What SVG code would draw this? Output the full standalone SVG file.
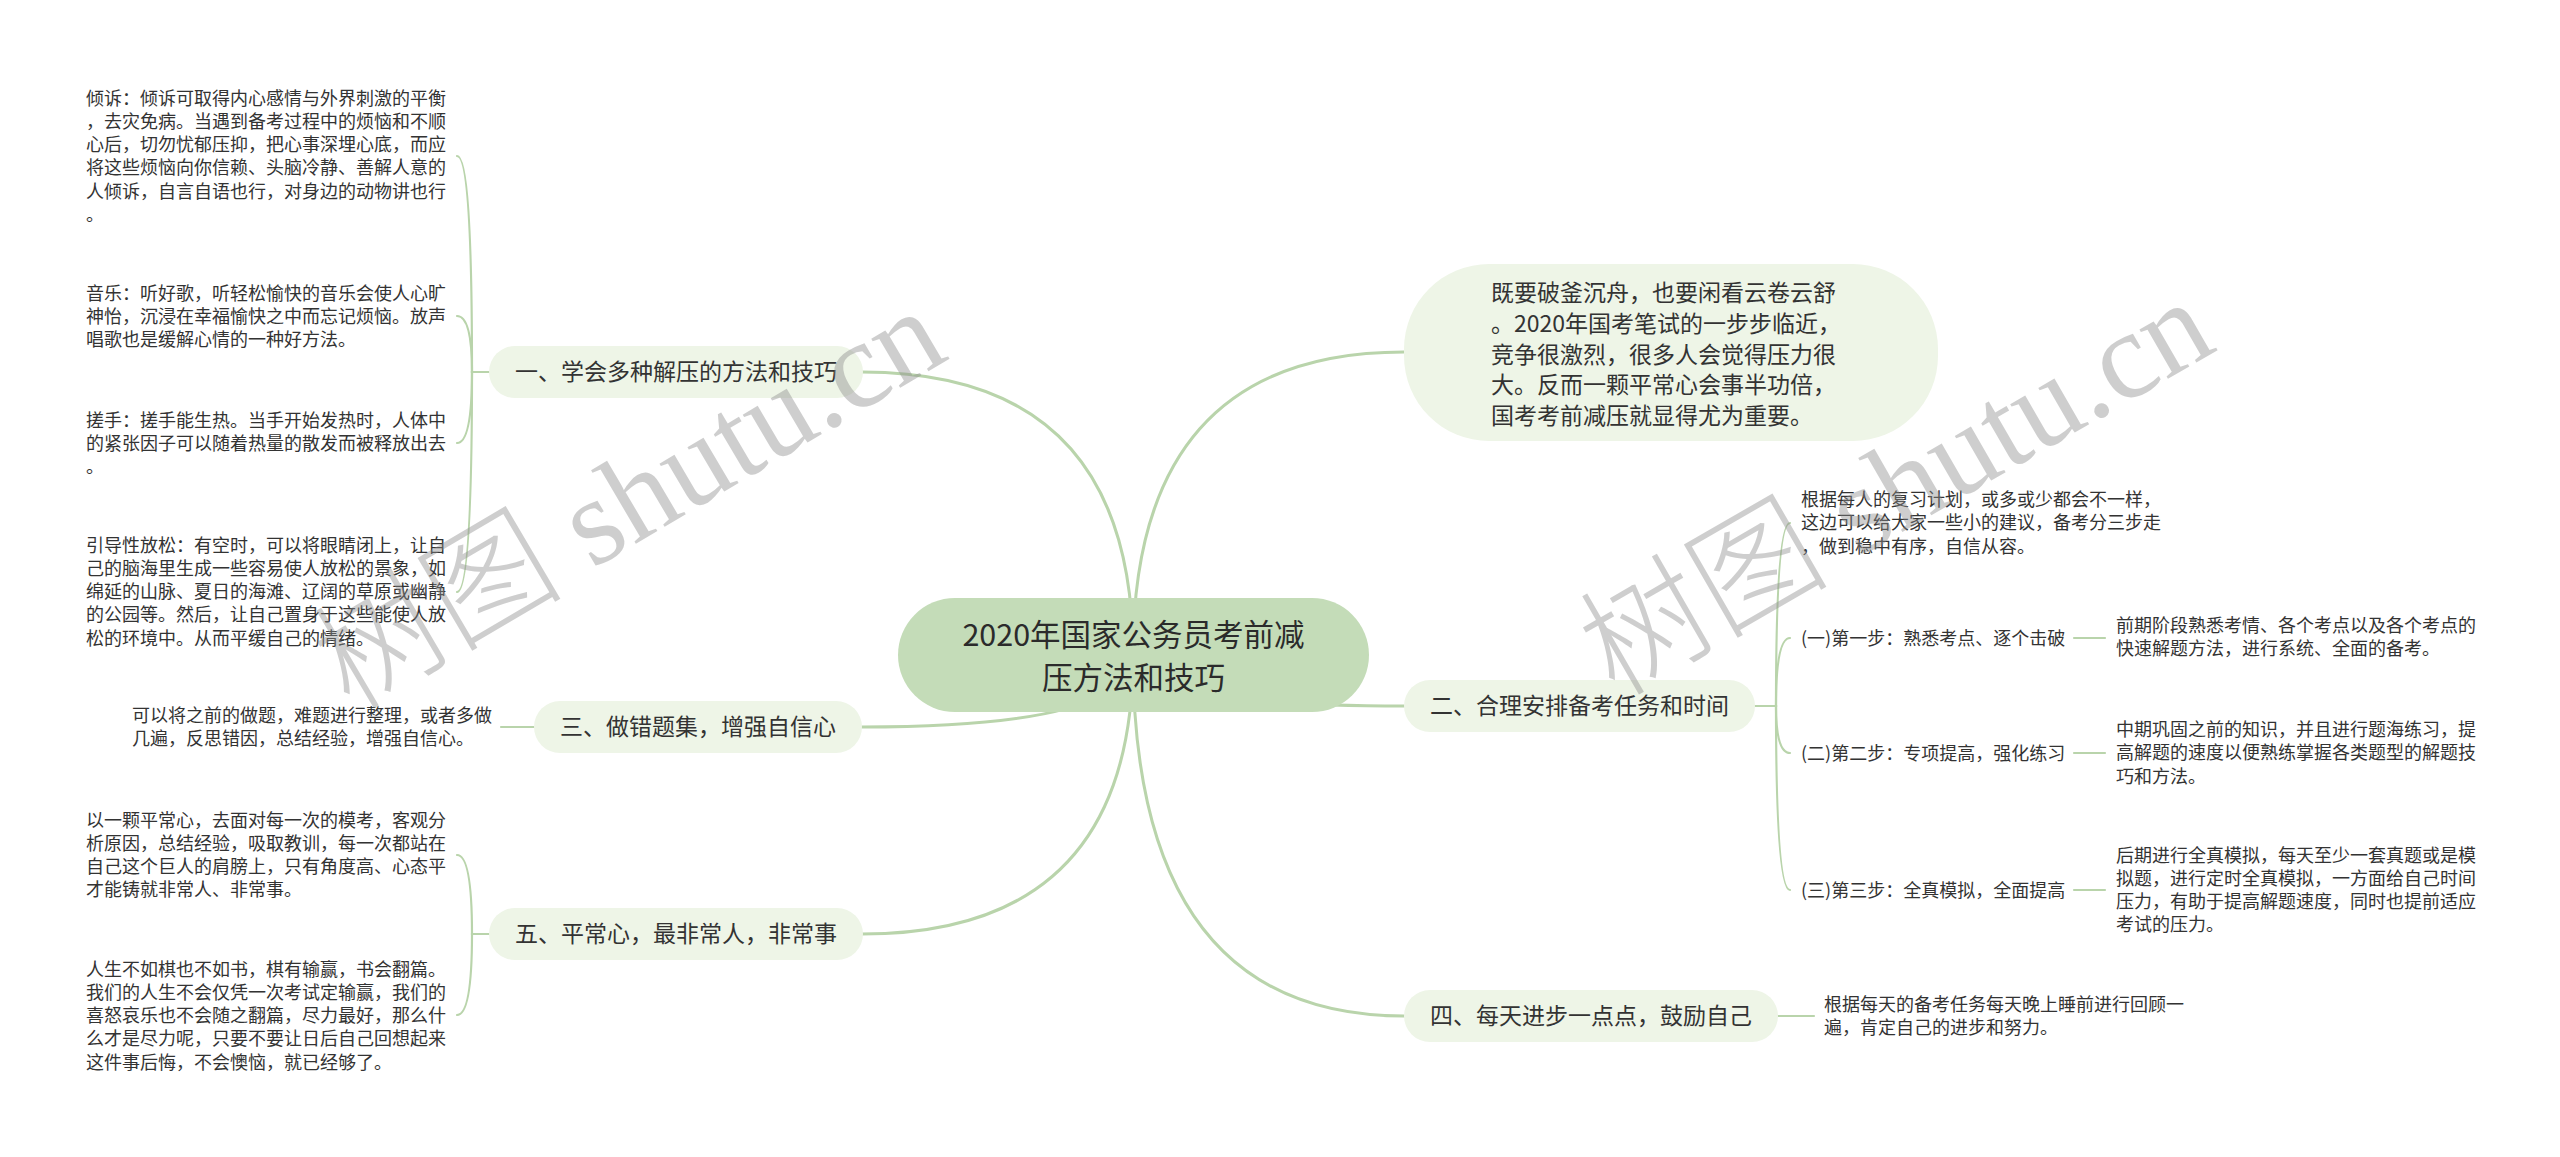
<svg xmlns="http://www.w3.org/2000/svg" width="2560" height="1157" viewBox="0 0 2560 1157">
<style>
.t{font-family:"Noto Sans CJK SC","Noto Sans",sans-serif;fill:#333333}
.leaf{font-size:18px}
.br{font-size:23px}
.root{font-size:30.5px;fill:#2b2b2b}
.ln{fill:none;stroke:#b9d4ab;stroke-width:3;stroke-linecap:round}
.ln2{fill:none;stroke:#b9d4ab;stroke-width:2.2;stroke-linecap:round}
.nb{fill:#eef5e7}
.nr{fill:#c4dcb8}
.wm{font-family:"Liberation Serif","Noto Sans CJK SC",serif;font-size:124px;fill:#8c8c8c;opacity:0.42}
.wmc{font-family:"Noto Sans CJK SC",serif;font-size:125px;font-weight:300}
</style>
<rect width="2560" height="1157" fill="#ffffff"/>
<g id="connectors">
<path class="ln" d="M1133 655 Q1133 372 862 372"/>
<path class="ln" d="M1133 655 Q1133 352 1404 352"/>
<path class="ln" d="M1133 655 Q1133 727 862 727"/>
<path class="ln" d="M1133 655 Q1133 934 862 934"/>
<path class="ln" d="M1133 655 Q1133 706 1404 706"/>
<path class="ln" d="M1133 655 Q1133 1016 1404 1016"/>
<path class="ln2" d="M489 372 H472 Q472 156 457 156"/>
<path class="ln2" d="M489 372 H472 Q472 316 457 316"/>
<path class="ln2" d="M489 372 H472 Q472 443 457 443"/>
<path class="ln2" d="M489 372 H472 Q472 592 457 592"/>
<path class="ln2" d="M534 727 H501"/>
<path class="ln2" d="M489 934 H472 Q472 855 457 855"/>
<path class="ln2" d="M489 934 H472 Q472 1015 457 1015"/>
<path class="ln2" d="M1755 706 H1776 Q1776 523 1790 523"/>
<path class="ln2" d="M1755 706 H1776 Q1776 638 1790 638"/>
<path class="ln2" d="M1755 706 H1776 Q1776 753 1790 753"/>
<path class="ln2" d="M1755 706 H1776 Q1776 890 1790 890"/>
<path class="ln2" d="M2074 638 H2105"/>
<path class="ln2" d="M2074 753 H2105"/>
<path class="ln2" d="M2074 890 H2105"/>
<path class="ln2" d="M1778 1016 H1814"/>
</g>
<g id="root">
<rect class="nr" x="898" y="598" width="471" height="114" rx="57"/>
<text class="t root" x="1133.5" y="646" text-anchor="middle">2020年国家公务员考前减</text>
<text class="t root" x="1133.5" y="689" text-anchor="middle">压方法和技巧</text>
</g>
<g id="intro">
<rect class="nb" x="1404" y="264" width="534" height="177" rx="85"/>
<text class="t br" x="1491" y="301"><tspan x="1491">既要破釜沉舟，也要闲看云卷云舒</tspan><tspan x="1491" dy="30.8">。2020年国考笔试的一步步临近，</tspan><tspan x="1491" dy="30.8">竞争很激烈，很多人会觉得压力很</tspan><tspan x="1491" dy="30.8">大。反而一颗平常心会事半功倍，</tspan><tspan x="1491" dy="30.8">国考考前减压就显得尤为重要。</tspan></text>
</g>
<g id="b1">
<rect class="nb" x="489" y="346" width="374" height="52" rx="26"/>
<text class="t br" x="515" y="380">一、学会多种解压的方法和技巧</text>
</g>
<g id="b1-leaf1">
<text class="t leaf" x="86" y="104.5"><tspan x="86">倾诉：倾诉可取得内心感情与外界刺激的平衡</tspan><tspan x="86" dy="23.3">，去灾免病。当遇到备考过程中的烦恼和不顺</tspan><tspan x="86" dy="23.3">心后，切勿忧郁压抑，把心事深埋心底，而应</tspan><tspan x="86" dy="23.3">将这些烦恼向你信赖、头脑冷静、善解人意的</tspan><tspan x="86" dy="23.3">人倾诉，自言自语也行，对身边的动物讲也行</tspan><tspan x="86" dy="23.3">。</tspan></text>
</g>
<g id="b1-leaf2">
<text class="t leaf" x="86" y="299.5"><tspan x="86">音乐：听好歌，听轻松愉快的音乐会使人心旷</tspan><tspan x="86" dy="23.3">神怡，沉浸在幸福愉快之中而忘记烦恼。放声</tspan><tspan x="86" dy="23.3">唱歌也是缓解心情的一种好方法。</tspan></text>
</g>
<g id="b1-leaf3">
<text class="t leaf" x="86" y="426.5"><tspan x="86">搓手：搓手能生热。当手开始发热时，人体中</tspan><tspan x="86" dy="23.3">的紧张因子可以随着热量的散发而被释放出去</tspan><tspan x="86" dy="23.3">。</tspan></text>
</g>
<g id="b1-leaf4">
<text class="t leaf" x="86" y="551.5"><tspan x="86">引导性放松：有空时，可以将眼睛闭上，让自</tspan><tspan x="86" dy="23.3">己的脑海里生成一些容易使人放松的景象，如</tspan><tspan x="86" dy="23.3">绵延的山脉、夏日的海滩、辽阔的草原或幽静</tspan><tspan x="86" dy="23.3">的公园等。然后，让自己置身于这些能使人放</tspan><tspan x="86" dy="23.3">松的环境中。从而平缓自己的情绪。</tspan></text>
</g>
<g id="b3">
<rect class="nb" x="534" y="701" width="328" height="52" rx="26"/>
<text class="t br" x="560" y="735">三、做错题集，增强自信心</text>
</g>
<g id="b3-leaf">
<text class="t leaf" x="132" y="721.5"><tspan x="132">可以将之前的做题，难题进行整理，或者多做</tspan><tspan x="132" dy="23.3">几遍，反思错因，总结经验，增强自信心。</tspan></text>
</g>
<g id="b5">
<rect class="nb" x="489" y="908" width="374" height="52" rx="26"/>
<text class="t br" x="515" y="942">五、平常心，最非常人，非常事</text>
</g>
<g id="b5-leaf1">
<text class="t leaf" x="86" y="826.5"><tspan x="86">以一颗平常心，去面对每一次的模考，客观分</tspan><tspan x="86" dy="23.3">析原因，总结经验，吸取教训，每一次都站在</tspan><tspan x="86" dy="23.3">自己这个巨人的肩膀上，只有角度高、心态平</tspan><tspan x="86" dy="23.3">才能铸就非常人、非常事。</tspan></text>
</g>
<g id="b5-leaf2">
<text class="t leaf" x="86" y="975.5"><tspan x="86">人生不如棋也不如书，棋有输赢，书会翻篇。</tspan><tspan x="86" dy="23.3">我们的人生不会仅凭一次考试定输赢，我们的</tspan><tspan x="86" dy="23.3">喜怒哀乐也不会随之翻篇，尽力最好，那么什</tspan><tspan x="86" dy="23.3">么才是尽力呢，只要不要让日后自己回想起来</tspan><tspan x="86" dy="23.3">这件事后悔，不会懊恼，就已经够了。</tspan></text>
</g>
<g id="b2">
<rect class="nb" x="1404" y="680" width="351" height="52" rx="26"/>
<text class="t br" x="1430" y="714">二、合理安排备考任务和时间</text>
</g>
<g id="b2-intro">
<text class="t leaf" x="1801" y="506"><tspan x="1801">根据每人的复习计划，或多或少都会不一样，</tspan><tspan x="1801" dy="23.3">这边可以给大家一些小的建议，备考分三步走</tspan><tspan x="1801" dy="23.3">，做到稳中有序，自信从容。</tspan></text>
</g>
<g id="b2-s1">
<text class="t leaf" x="1801" y="644.5">(一)第一步：熟悉考点、逐个击破</text>
</g>
<g id="b2-s1-leaf">
<text class="t leaf" x="2116" y="632"><tspan x="2116">前期阶段熟悉考情、各个考点以及各个考点的</tspan><tspan x="2116" dy="23.3">快速解题方法，进行系统、全面的备考。</tspan></text>
</g>
<g id="b2-s2">
<text class="t leaf" x="1801" y="759.5">(二)第二步：专项提高，强化练习</text>
</g>
<g id="b2-s2-leaf">
<text class="t leaf" x="2116" y="736"><tspan x="2116">中期巩固之前的知识，并且进行题海练习，提</tspan><tspan x="2116" dy="23.3">高解题的速度以便熟练掌握各类题型的解题技</tspan><tspan x="2116" dy="23.3">巧和方法。</tspan></text>
</g>
<g id="b2-s3">
<text class="t leaf" x="1801" y="896.5">(三)第三步：全真模拟，全面提高</text>
</g>
<g id="b2-s3-leaf">
<text class="t leaf" x="2116" y="861.5"><tspan x="2116">后期进行全真模拟，每天至少一套真题或是模</tspan><tspan x="2116" dy="23.3">拟题，进行定时全真模拟，一方面给自己时间</tspan><tspan x="2116" dy="23.3">压力，有助于提高解题速度，同时也提前适应</tspan><tspan x="2116" dy="23.3">考试的压力。</tspan></text>
</g>
<g id="b4">
<rect class="nb" x="1404" y="990" width="374" height="52" rx="26"/>
<text class="t br" x="1430" y="1024">四、每天进步一点点，鼓励自己</text>
</g>
<g id="b4-leaf">
<text class="t leaf" x="1824" y="1010.5"><tspan x="1824">根据每天的备考任务每天晚上睡前进行回顾一</tspan><tspan x="1824" dy="23.3">遍，肯定自己的进步和努力。</tspan></text>
</g>
<g id="watermark">
<text class="wm" transform="translate(350,712) rotate(-30.5)"><tspan class="wmc">树图</tspan> shutu.cn</text>
<text class="wm" transform="translate(1615,698) rotate(-30)"><tspan class="wmc">树图</tspan> shutu.cn</text>
</g>
</svg>
